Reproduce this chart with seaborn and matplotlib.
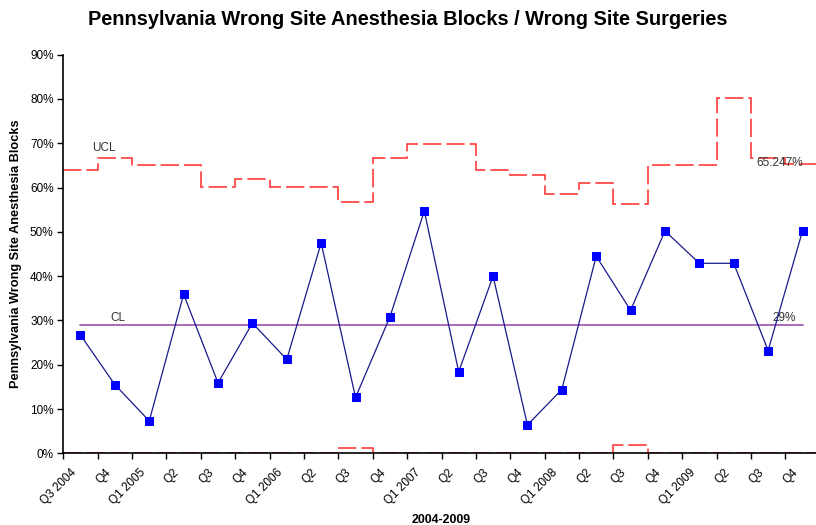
import numpy as np
import pandas as pd
import matplotlib
matplotlib.use("Agg")
import matplotlib.pyplot as plt
import matplotlib.transforms as mtransforms
import seaborn as sns
from matplotlib.ticker import FixedLocator, PercentFormatter

sns.set_theme(style="white")
plt.rcParams['font.family'] = ['Liberation Sans', 'DejaVu Sans']
plt.rcParams['text.color'] = 'black'

quarters = ["Q3 2004", "Q4", "Q1 2005", "Q2", "Q3", "Q4", "Q1 2006", "Q2", "Q3", "Q4",
            "Q1 2007", "Q2", "Q3", "Q4", "Q1 2008", "Q2", "Q3", "Q4", "Q1 2009", "Q2",
            "Q3", "Q4"]
rate = [26.7, 15.5, 7.3, 35.9, 15.9, 29.4, 21.2, 47.5, 12.6, 30.8,
        54.7, 18.4, 40.0, 6.4, 14.4, 44.5, 32.3, 50.2, 42.9, 42.9,
        23.2, 50.2]
ucl = [64.0, 66.6, 65.2, 65.2, 60.1, 61.9, 60.1, 60.1, 56.7, 66.6,
       69.8, 69.8, 64.0, 62.8, 58.5, 61.1, 56.2, 65.2, 65.2, 80.3,
       66.6, 65.247]
lcl = [0, 0, 0, 0, 0, 0, 0, 0, 1.3, 0,
       0, 0, 0, 0, 0, 0, 1.8, 0, 0, 0,
       0, 0]
cl_value = 29.0

df = pd.DataFrame({"idx": np.arange(len(quarters)), "quarter": quarters,
                   "rate": rate, "cl": [cl_value] * len(quarters)})

fig = plt.figure(figsize=(8.16, 5.25), dpi=100)
ax = fig.add_axes([63.3 / 816, 71.7 / 525, 756.4 / 816, 398.6 / 525])

edges = np.arange(len(quarters) + 1) - 0.5
ax.stairs(ucl, edges, baseline=None, color="#ff3b3b", lw=1.2,
          linestyle=(0, (11, 3)), zorder=2)
ax.stairs(lcl, edges, baseline=None, color="#ff3b3b", lw=1.2,
          linestyle=(0, (11, 3)), zorder=2)

sns.lineplot(data=df, x="idx", y="cl", ax=ax, color="#a25fb2", lw=1.3, zorder=3)
sns.lineplot(data=df, x="idx", y="rate", ax=ax, color="#1a1a8c", lw=0.9,
             marker="s", markersize=6, markerfacecolor="#0000ff",
             markeredgecolor="#0000ff", zorder=4)

ax.set_xlim(-0.5, len(quarters) - 0.5)
ax.set_ylim(0, 90)
ax.yaxis.set_major_locator(FixedLocator(np.arange(0, 91, 10)))
ax.yaxis.set_major_formatter(PercentFormatter(decimals=0))

# category tick marks at boundaries, labels drawn at category centres
ax.set_xticks(edges[:-1])
ax.set_xticklabels([])
ax.tick_params(axis="x", length=4, width=1, color="black", direction="out")
base = mtransforms.blended_transform_factory(ax.transData, ax.transAxes)
offset = mtransforms.ScaledTranslation(-6 / 100, -17.5 / 100, fig.dpi_scale_trans)
for i, q in enumerate(quarters):
    ax.text(i, 0, q, transform=base + offset, rotation=45, ha="right", va="center",
            rotation_mode="anchor", fontsize=8.5, color="black", clip_on=False)

ax.tick_params(axis="y", length=4, width=1, color="black", direction="out",
               labelsize=8.5, pad=3, labelcolor="black")
ax.tick_params(bottom=True, left=True)

for s in ["top", "right"]:
    ax.spines[s].set_visible(False)
for s in ["left", "bottom"]:
    ax.spines[s].set_color("black")
    ax.spines[s].set_linewidth(1.2)

ax.set_xlabel("2004-2009", fontsize=8.9, fontweight="bold", color="black")
ax.xaxis.set_label_coords(0.5, -0.153)
ax.set_ylabel("Pennsylvania Wrong Site Anesthesia Blocks", fontsize=9.2,
              fontweight="bold", labelpad=6, color="black")

ax.text(0.33, 67.6, "UCL", fontsize=8.5, color="#333333", va="bottom")
ax.text(0.86, 29.2, "CL", fontsize=8.5, color="#333333", va="bottom")
ax.text(19.65, ucl[-1] + 0.2, f"{ucl[-1]:.3f}%", fontsize=8.5, color="#333333", va="center")
ax.text(20.13, cl_value + 0.2, f"{cl_value:.0f}%", fontsize=8.5, color="#333333", va="bottom")

fig.text(0.5, 0.962, "Pennsylvania Wrong Site Anesthesia Blocks / Wrong Site Surgeries",
         ha="center", va="center", fontsize=14.4, fontweight="bold", color="black")

ax.grid(False)
fig.savefig("out.png", dpi=100)
